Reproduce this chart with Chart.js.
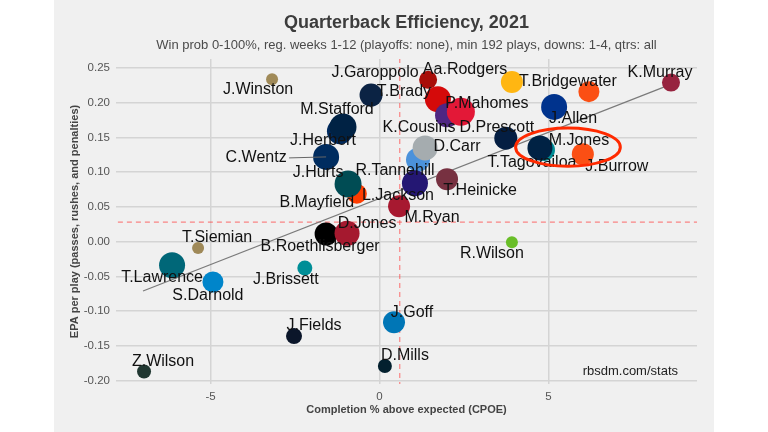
<!DOCTYPE html>
<html>
<head>
<meta charset="utf-8">
<script src="https://cdn.jsdelivr.net/npm/chart.js@4.4.0/dist/chart.umd.min.js"></script>
<style>
  html, body { margin: 0; padding: 0; background: #ffffff; }
  #wrap { position: relative; width: 768px; height: 432px; }
</style>
</head>
<body>
<div id="wrap"><canvas id="c" width="768" height="432"></canvas></div>
<script>
// ---- data ----
const names = ['J.Winston','J.Garoppolo','T.Brady','Aa.Rodgers','K.Cousins','P.Mahomes','T.Bridgewater','','K.Murray','J.Allen','D.Prescott','T.Tagovailoa','M.Jones','J.Burrow','R.Tannehill','D.Carr','L.Jackson','T.Heinicke','M.Ryan','B.Mayfield','J.Hurts','J.Herbert','M.Stafford','C.Wentz','B.Roethlisberger','D.Jones','T.Siemian','T.Lawrence','S.Darnold','J.Brissett','R.Wilson','J.Goff','J.Fields','D.Mills','Z.Wilson'];
const cpoe = [-3.18,-0.25,1.73,1.44,2.0,2.41,3.92,6.2,8.63,5.17,3.74,4.87,4.75,6.02,1.14,1.35,1.05,2.0,0.58,-0.67,-0.93,-1.17,-1.08,-1.58,-1.58,-0.96,-5.37,-6.14,-4.93,-2.21,3.92,0.43,-2.53,0.16,-6.97];
const epa  = [0.234,0.211,0.205,0.233,0.182,0.187,0.230,0.216,0.229,0.194,0.149,0.132,0.135,0.126,0.118,0.135,0.084,0.090,0.051,0.069,0.083,0.159,0.165,0.122,0.011,0.012,-0.009,-0.034,-0.058,-0.038,-0.001,-0.116,-0.136,-0.179,-0.187];
const trendX = [-7.0, 8.55];
const trendY = [-0.071, 0.225];
const meanCpoe = 0.6;
const meanEpa = 0.028;
const xTicks = [-5, 0, 5];
const yTicks = [-0.20,-0.15,-0.10,-0.05,0.00,0.05,0.10,0.15,0.20,0.25];

// ---- styling (sizes, colours, label offsets) ----
const radii = [6,11.5,13,9,12,14,11,10.5,9,13,11.5,11,12.5,11,12,12.5,13,11,11,10,13.5,13,13.5,13,11.5,12.5,6,13,10.5,7.5,6,11,8,7,7];
const colors = ['#a08a58','#0b2344','#d50a0a','#a80d08','#4f2683','#e31837','#ffb612','#fb4f14','#97233f','#00338d','#041e42','#008e97','#002244','#fb4f14','#4b92db','#a5acaf','#241773','#773141','#a71930','#ff3c00','#004c54','#002a5e','#002244','#002c5f','#000000','#a5192f','#9f8958','#006778','#0085ca','#008e97','#69be28','#0076b6','#0b162a','#03202f','#203731'];
const labelDx = [-14,4,-34,37,-28,26,56,0,-11,19,-9,-12,39,34,-23,32,-17,33,33,-40,-30,-17,-6,-70,-6,20,19,-10,-5,-19,-20,18,20,20,19];
const labelDy = [10,-23,-8,-10,12,-8,0,0,-10,12,-11,13,-7,12,11,-1,12,11,11,9,-11,9,-17,1,13,-10,-10,12,14,12,11,-10,-10,-10,-10];

const FONT = "'Liberation Sans', Arial, sans-serif";

const bgPlugin = {
  id: 'bg',
  beforeDraw(chart) {
    const ctx = chart.ctx;
    ctx.save();
    ctx.fillStyle = '#ffffff';
    ctx.fillRect(0, 0, chart.width, chart.height);
    ctx.fillStyle = '#f0f0f0';
    ctx.fillRect(54, 0, 660, chart.height);
    // title + subtitle
    const ca = chart.chartArea;
    const cx = (ca.left + ca.right) / 2;
    ctx.textAlign = 'center';
    ctx.textBaseline = 'middle';
    ctx.fillStyle = '#3c3c3c';
    ctx.font = "bold 18px " + FONT;
    ctx.fillText('Quarterback Efficiency, 2021', cx, 23);
    ctx.fillStyle = '#4a4a4a';
    ctx.font = "13px " + FONT;
    ctx.fillText('Win prob 0-100%, reg. weeks 1-12 (playoffs: none), min 192 plays, downs: 1-4, qtrs: all', cx, 45);
    ctx.restore();
  }
};

const labelPlugin = {
  id: 'labels',
  afterDatasetsDraw(chart) {
    const ctx = chart.ctx;
    const meta = chart.getDatasetMeta(0);
    const xs = chart.scales.x, ys = chart.scales.y;
    ctx.save();
    // leader segment for C.Wentz
    const wi = names.indexOf('C.Wentz');
    const wp = meta.data[wi];
    ctx.strokeStyle = '#666';
    ctx.lineWidth = 1;
    ctx.beginPath();
    ctx.moveTo(wp.x + labelDx[wi] + 33, wp.y + labelDy[wi]);
    ctx.lineTo(wp.x, wp.y);
    ctx.stroke();

    ctx.font = "16px " + FONT;
    ctx.fillStyle = '#111';
    ctx.textAlign = 'center';
    ctx.textBaseline = 'middle';
    names.forEach((n, i) => {
      if (!n) return;
      const p = meta.data[i];
      ctx.fillText(n, p.x + labelDx[i], p.y + labelDy[i]);
    });

    // highlight ellipse around M.Jones
    const cx = xs.getPixelForValue(5.58), cy = ys.getPixelForValue(0.136);
    const rx = xs.getPixelForValue(5.58 + 1.55) - cx;
    const ry = cy - ys.getPixelForValue(0.136 + 0.0275);
    ctx.beginPath();
    ctx.ellipse(cx, cy, rx, ry, 0, 0, Math.PI * 2);
    ctx.strokeStyle = '#ff2a00';
    ctx.lineWidth = 3;
    ctx.stroke();

    // watermark
    ctx.font = "13px " + FONT;
    ctx.fillStyle = '#222';
    ctx.textAlign = 'right';
    ctx.fillText('rbsdm.com/stats', chart.chartArea.right - 19, ys.getPixelForValue(-0.187));
    ctx.restore();
  }
};

const points = names.map((n, i) => ({ x: cpoe[i], y: epa[i], r: radii[i] }));

new Chart(document.getElementById('c'), {
  type: 'bubble',
  data: {
    datasets: [
      {
        type: 'bubble',
        data: points,
        backgroundColor: colors,
        borderWidth: 0,
        hoverBorderWidth: 0,
        order: 0
      },
      {
        type: 'line',
        data: trendX.map((x, i) => ({ x, y: trendY[i] })),
        borderColor: '#7a7a7a',
        borderWidth: 1.2,
        pointRadius: 0,
        fill: false,
        order: 1
      },
      {
        type: 'line',
        data: [{ x: meanCpoe, y: -1 }, { x: meanCpoe, y: 1 }],
        borderColor: 'rgba(255,60,60,0.6)',
        borderWidth: 1.2,
        borderDash: [5, 4],
        pointRadius: 0,
        fill: false,
        order: 2
      },
      {
        type: 'line',
        data: [{ x: -20, y: meanEpa }, { x: 20, y: meanEpa }],
        borderColor: 'rgba(255,60,60,0.6)',
        borderWidth: 1.2,
        borderDash: [5, 4],
        pointRadius: 0,
        fill: false,
        order: 2
      }
    ]
  },
  options: {
    responsive: false,
    animation: false,
    devicePixelRatio: 1,
    layout: { padding: { left: 54, right: 71, top: 59, bottom: 0 } },
    plugins: { legend: { display: false }, tooltip: { enabled: false } },
    scales: {
      x: {
        type: 'linear',
        min: -7.8,
        max: 9.4,
        afterBuildTicks: s => { s.ticks = xTicks.map(v => ({ value: v })); },
        afterFit: s => { s.height = 48; },
        grid: { color: '#d4d4d4', lineWidth: 1.5, drawTicks: false },
        border: { display: false },
        ticks: { padding: 6, color: '#555', font: { family: FONT, size: 11.5 }, callback: v => String(v) },
        title: { display: true, text: 'Completion % above expected (CPOE)', color: '#444', font: { family: FONT, size: 11, weight: 'bold' }, padding: { top: 0, bottom: 15 } }
      },
      y: {
        type: 'linear',
        min: -0.205,
        max: 0.263,
        afterBuildTicks: s => { s.ticks = yTicks.map(v => ({ value: v })); },
        afterFit: s => { s.width = 62; },
        grid: { color: '#d4d4d4', lineWidth: 1.5, drawTicks: false },
        border: { display: false },
        ticks: { padding: 6, color: '#555', font: { family: FONT, size: 11.5 }, callback: v => v.toFixed(2) },
        title: { display: true, text: 'EPA per play (passes, rushes, and penalties)', color: '#444', font: { family: FONT, size: 11, weight: 'bold' }, padding: { top: 14, bottom: 0 } }
      }
    }
  },
  plugins: [bgPlugin, labelPlugin]
});
</script>
</body>
</html>
